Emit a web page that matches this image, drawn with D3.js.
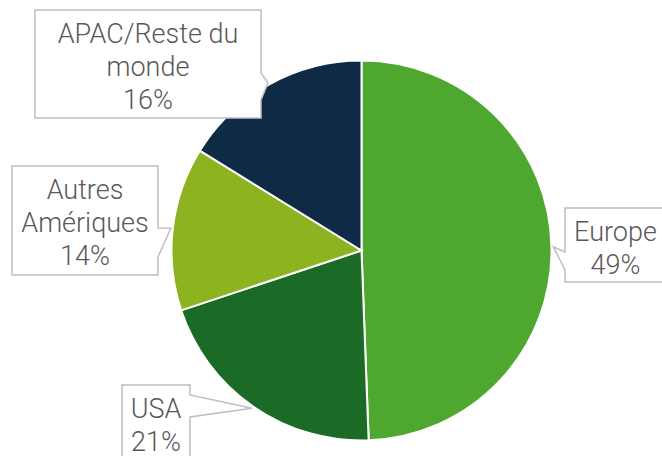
<!DOCTYPE html>
<meta charset="UTF-8">
<style>
  body { margin: 0; background: #fff; }
  .slice { stroke: #fff; stroke-width: 2px; }
  .callout { fill: #fff; stroke: #bfbfbf; stroke-width: 1.5px; }
  .lbl text { font: 300 27px Roboto, sans-serif; fill: #595959; }
</style>
<body>
  <script src="https://cdn.jsdelivr.net/npm/d3@7"></script>
  <script>
    // regions, clockwise from 12 o'clock
    var regions = ["Europe", "USA", "Autres Amériques", "APAC/Reste du monde"];
    var shares = [49.4, 20.5, 13.9, 16.2];
    var shareLabels = ["49%", "21%", "14%", "16%"];
    var colors = ["#4ea72e", "#1b6a25", "#8db321", "#0f2a45"];

    // label text lines (as wrapped in the chart)
    var labelLines = [
      ["Europe"],
      ["USA"],
      ["Autres", "Amériques"],
      ["APAC/Reste du", "monde"]
    ];

    // callout box placement (layout only)
    var boxes = [
      { x: 565, y: 208, w: 101, h: 74, side: "left", notch: [252, 270] },
      { x: 122, y: 385, w: 68, h: 74, side: "right", notch: [395, 417] },
      { x: 12, y: 166, w: 146, h: 109, side: "right", notch: [228, 257] },
      { x: 35, y: 10, w: 226, h: 108, side: "right", notch: [73, 100] }
    ];

    var W = 662, H = 456,
      cx = 361.5, cy = 250.5,
      radius = 190;

    var svg = d3.select("body").append("svg")
      .attr("width", W)
      .attr("height", H);

    var pie = d3.pie().sort(null).value(function(d) { return d; });
    var arcs = pie(shares);

    var arc = d3.arc().innerRadius(0).outerRadius(radius);

    var g = svg.append("g")
      .attr("transform", "translate(" + cx + "," + cy + ")");

    g.selectAll("path.slice")
      .data(arcs)
      .enter().append("path")
      .attr("class", "slice")
      .attr("d", arc)
      .attr("fill", function(d, i) { return colors[i]; });

    // callouts
    var lineH = 33;

    var lbl = svg.selectAll("g.lbl")
      .data(arcs)
      .enter().append("g")
      .attr("class", "lbl");

    lbl.append("path")
      .attr("class", "callout")
      .attr("d", function(d, i) {
        var b = boxes[i];
        var a = (d.startAngle + d.endAngle) / 2;
        var tx = cx + (radius + 2) * Math.sin(a),
          ty = cy - (radius + 2) * Math.cos(a);
        var p = d3.path();
        if (b.side === "right") {
          p.moveTo(b.x, b.y);
          p.lineTo(b.x + b.w, b.y);
          p.lineTo(b.x + b.w, b.notch[0]);
          p.lineTo(tx, ty);
          p.lineTo(b.x + b.w, b.notch[1]);
          p.lineTo(b.x + b.w, b.y + b.h);
          p.lineTo(b.x, b.y + b.h);
        } else {
          p.moveTo(b.x, b.y);
          p.lineTo(b.x + b.w, b.y);
          p.lineTo(b.x + b.w, b.y + b.h);
          p.lineTo(b.x, b.y + b.h);
          p.lineTo(b.x, b.notch[1]);
          p.lineTo(tx, ty);
          p.lineTo(b.x, b.notch[0]);
        }
        p.closePath();
        return p.toString();
      });

    lbl.each(function(d, i) {
      var b = boxes[i];
      var lines = labelLines[i].concat([shareLabels[i]]);
      var t = d3.select(this).append("text")
        .attr("text-anchor", "middle");
      lines.forEach(function(s, k) {
        t.append("tspan")
          .attr("x", b.x + b.w / 2)
          .attr("y", b.y + 33 + k * lineH)
          .text(s);
      });
    });
  </script>
</body>
